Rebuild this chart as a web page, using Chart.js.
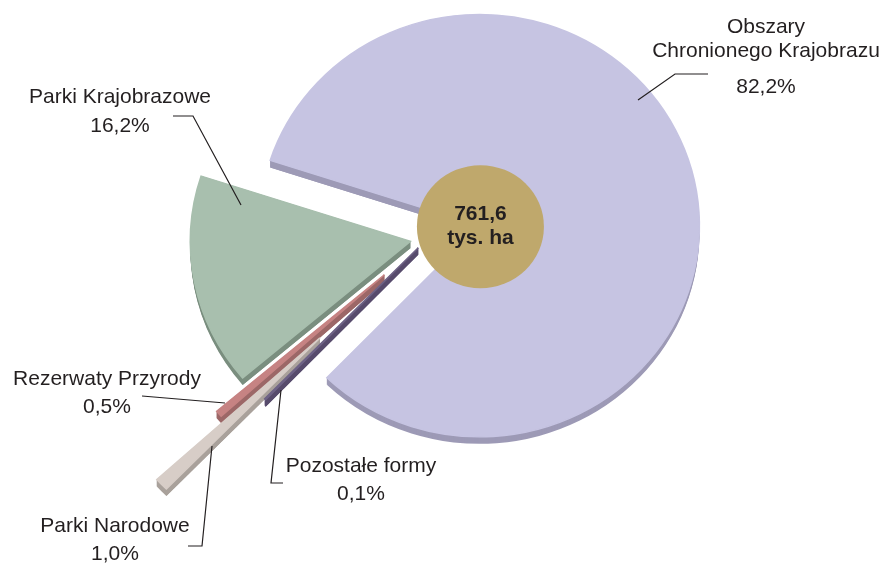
<!DOCTYPE html>
<html>
<head>
<meta charset="utf-8">
<script src="https://cdn.jsdelivr.net/npm/chart.js@4"></script>
<style>
  html, body { margin: 0; padding: 0; background: #fff; }
  #wrap { width: 887px; height: 565px; }
</style>
</head>
<body>
<div id="wrap"><canvas id="chart" width="887" height="565"></canvas></div>
<script>
const categories = ["Obszary Chronionego Krajobrazu", "Pozostałe formy", "Parki Narodowe", "Rezerwaty Przyrody", "Parki Krajobrazowe"];
const shares = [82.2, 0.1, 1.0, 0.5, 16.2];
const shareLabels = ["82,2%", "0,1%", "1,0%", "0,5%", "16,2%"];
const totalLabel = ["761,6", "tys. ha"];

const faceColors = ["#c6c4e2", "#6e6285", "#d7cdc7", "#c68383", "#a8bfae"];
const sideColors = ["#9d9ab6", "#574b6c", "#a9a19b", "#9c6767", "#7a8e7f"];
const explode = [53, 14, 150, 58, 18];
const drawOrder = [4, 3, 2, 1, 0];
const DEPTH = 7;
const SQUASH = 0.96;
const FONT = '"Liberation Sans", Arial, sans-serif';
const INK = "#231f20";

// label blocks: text lines, centre x, first baseline, line gaps, leader line points
const callouts = [
  { lines: ["Obszary", "Chronionego Krajobrazu", shareLabels[0]], x: 766, y: 33, gaps: [24, 36],
    leader: [[638, 100], [675, 74], [708, 74]] },
  { lines: ["Pozostałe formy", shareLabels[1]], x: 361, y: 472, gaps: [28],
    leader: [[283, 483], [271, 483], [281, 390]] },
  { lines: ["Parki Narodowe", shareLabels[2]], x: 115, y: 532, gaps: [28],
    leader: [[188, 546], [202, 546], [212, 446]] },
  { lines: ["Rezerwaty Przyrody", shareLabels[3]], x: 107, y: 385, gaps: [28],
    leader: [[142, 396], [225, 403]] },
  { lines: ["Parki Krajobrazowe", shareLabels[4]], x: 120, y: 103, gaps: [29],
    leader: [[173, 116], [193, 116], [241, 205]] }
];

const pie3d = {
  id: "pie3d",
  beforeDatasetsDraw(chart) {
    const ctx = chart.ctx;
    const arcs = chart.getDatasetMeta(0).data;
    const cx = arcs[0].x, cy = arcs[0].y;

    const place = (arc, i, dy) => {
      const mid = (arc.startAngle + arc.endAngle) / 2;
      ctx.translate(cx, cy + dy);
      ctx.scale(1, SQUASH);
      ctx.translate(-cx, -cy);
      ctx.translate(Math.cos(mid) * explode[i], Math.sin(mid) * explode[i]);
    };

    drawOrder.forEach(i => {
      const arc = arcs[i];
      const r = arc.outerRadius;
      ctx.fillStyle = sideColors[i];
      // side of the slice: shifted copies for the rim
      for (let d = DEPTH; d > 0; d--) {
        ctx.save();
        place(arc, i, d);
        ctx.beginPath();
        ctx.moveTo(arc.x, arc.y);
        ctx.arc(arc.x, arc.y, r, arc.startAngle, arc.endAngle);
        ctx.closePath();
        ctx.fill();
        ctx.restore();
      }
      // side walls along both straight edges
      ctx.save();
      place(arc, i, 0);
      const dz = DEPTH / SQUASH;
      [arc.startAngle, arc.endAngle].forEach(a => {
        const px = arc.x + Math.cos(a) * r, py = arc.y + Math.sin(a) * r;
        ctx.beginPath();
        ctx.moveTo(arc.x, arc.y);
        ctx.lineTo(px, py);
        ctx.lineTo(px, py + dz);
        ctx.lineTo(arc.x, arc.y + dz);
        ctx.closePath();
        ctx.fill();
      });
      ctx.restore();
      // top face
      ctx.save();
      place(arc, i, 0);
      arc.draw(ctx);
      ctx.beginPath();
      ctx.moveTo(arc.x, arc.y);
      ctx.arc(arc.x, arc.y, r, arc.startAngle, arc.endAngle);
      ctx.closePath();
      ctx.strokeStyle = faceColors[i];
      ctx.lineWidth = 1.5;
      ctx.stroke();
      ctx.restore();
    });

    // gold disc on the tip of the big slice
    const big = arcs[0];
    const mid = (big.startAngle + big.endAngle) / 2;
    const gx = cx + Math.cos(mid) * explode[0];
    const gy = cy + Math.sin(mid) * explode[0] * SQUASH;
    ctx.save();
    ctx.beginPath();
    ctx.ellipse(gx + 1, gy + 1, 63.5, 61.5, 0, 0, Math.PI * 2);
    ctx.fillStyle = "#bfa86c";
    ctx.fill();
    ctx.fillStyle = INK;
    ctx.font = "bold 21px " + FONT;
    ctx.textAlign = "center";
    ctx.fillText(totalLabel[0], gx + 1, gy - 6);
    ctx.fillText(totalLabel[1], gx + 1, gy + 18);
    ctx.restore();
    return false;
  },
  afterDraw(chart) {
    const ctx = chart.ctx;
    ctx.save();
    ctx.strokeStyle = INK;
    ctx.lineWidth = 1.2;
    ctx.fillStyle = INK;
    ctx.font = "21px " + FONT;
    ctx.textAlign = "center";
    callouts.forEach(c => {
      let y = c.y;
      c.lines.forEach((t, k) => {
        ctx.fillText(t, c.x, y);
        if (k < c.gaps.length) y += c.gaps[k];
      });
      ctx.beginPath();
      c.leader.forEach(([px, py], k) => k ? ctx.lineTo(px, py) : ctx.moveTo(px, py));
      ctx.stroke();
    });
    ctx.restore();
  }
};

new Chart(document.getElementById("chart").getContext("2d"), {
  type: "pie",
  data: {
    labels: categories,
    datasets: [{
      data: shares,
      backgroundColor: faceColors,
      borderWidth: 0
    }]
  },
  options: {
    responsive: false,
    animation: false,
    rotation: 288,
    radius: 220,
    layout: { padding: { left: 0, right: 31, top: 0, bottom: 89 } },
    plugins: {
      legend: { display: false },
      tooltip: { enabled: false }
    }
  },
  plugins: [pie3d]
});
</script>
</body>
</html>
